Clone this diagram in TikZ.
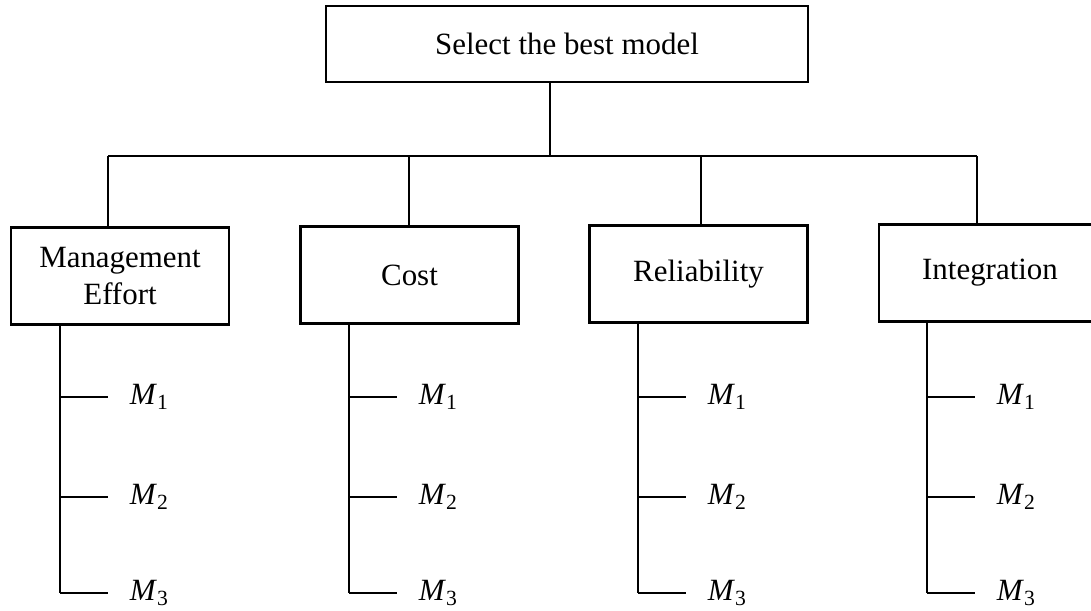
\documentclass[tikz,border=0pt]{standalone}
\usepackage{fontspec}
\setmainfont{Liberation Serif}
\begin{document}
\begin{tikzpicture}[x=0.02cm,y=-0.02cm,line width=1.2pt,
    font=\fontsize{17.6}{21}\selectfont,
    box/.style={draw,minimum width=4.36cm,minimum height=1.94cm,align=center,inner sep=0pt}]
    \useasboundingbox (0,0) rectangle (1091,610);
    \clip (0,0) rectangle (1091,610);

    \node[draw,minimum width=9.64cm,minimum height=1.52cm] (top) at (567,44) {Select the best model};

    \node[box] (mgmt) at (120,276) {Management\\Effort};
    \node[box] (cost) at (409.5,275) {Cost};
    \node[box] (rel) at (698.5,274) {Reliability};
    \node[box,minimum width=4.44cm] (integ) at (990,273) {Integration};

    % bus between goal and criteria
    \coordinate (b0) at (550,156);
    \coordinate (b1) at (108,156);
    \coordinate (b2) at (409,156);
    \coordinate (b3) at (701,156);
    \coordinate (b4) at (977,156);
    \draw (b0 |- top.south) -- (b0);
    \draw (b1) -- (b4);
    \foreach \b/\n in {b1/mgmt,b2/cost,b3/rel,b4/integ}
        \draw (\b) -- (\b |- \n.north);

    % alternatives under each criterion
    \foreach \n/\x in {mgmt/60,cost/349,rel/638,integ/927}{
        \coordinate (\n-t) at (\x,0 |- \n.south);
        \foreach \i/\y in {1/397,2/497,3/593}{
            \coordinate (\n-\i) at (\n-t |- 0,\y);
            \node[anchor=west] (\n-m\i) at ([xshift=1.26cm]\n-\i) {\textit{M}\textsubscript{\i}};
            \draw (\n-\i) -- ([xshift=0.96cm]\n-\i);
        }
        \draw (\n-t) -- (\n-3);
    }
\end{tikzpicture}
\end{document}
